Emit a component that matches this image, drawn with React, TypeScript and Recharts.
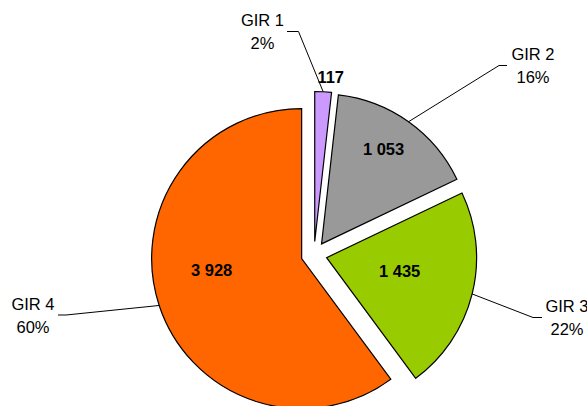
import React from 'react';
import { PieChart, Pie, Cell } from 'recharts';

// ---- data ----
const categories = ['GIR 1', 'GIR 2', 'GIR 3', 'GIR 4'];
const values = [117, 1053, 1435, 3928];
const colors = ['#CC99FF', '#999999', '#99CC00', '#FF6600'];

const data = categories.map((name, i) => ({ name, value: values[i] }));
const total = values.reduce((a, b) => a + b, 0);
const cumulative = values.map((_, i) => values.slice(0, i).reduce((a, b) => a + b, 0));

// ---- layout ----
const W = 587;
const H = 406;
const CX = 314;
const CY = 254.5;
const R = 150;
const EXPLODE = 13;
const START = 90;
const END = -270;
const RAD = Math.PI / 180;
const FONT = '"Liberation Sans", Arial, sans-serif';
const FS = 16.5;

// outer label layout: text centre x, first baseline y, leader elbow x, leader end x
const OUTER = [
  { x: 262.5, y: 26, elbowX: 298.5, endX: 287 },
  { x: 533, y: 60, elbowX: 499, endX: 507 },
  { x: 567, y: 312, elbowX: 533, endX: 542 },
  { x: 33, y: 309.5, elbowX: 66, endX: 58 },
];
// value label offsets from each slice's apex (text centre x, baseline y)
const INNER = [
  { dx: 16, dy: -159 },
  { dx: 62, dy: -89 },
  { dx: 73, dy: 19 },
  { dx: -90, dy: 17 },
];

const fmt = (v: number) => String(v).replace(/\B(?=(\d{3})+(?!\d))/g, ' ');

function makeLabel(k: number) {
  return (p: any) => {
    if (p.index !== k) return null;
    const cx = Number(p.cx);
    const cy = Number(p.cy);
    const mid = Number(p.midAngle);
    const ax = cx + R * Math.cos(-mid * RAD);
    const ay = cy + R * Math.sin(-mid * RAD);
    const o = OUTER[k];
    const ly = o.y + 5.5;
    const inner = INNER[k];
    const pct = Math.round((values[k] / total) * 100);
    return (
      <g>
        <polyline
          points={`${ax},${ay} ${o.elbowX},${ly} ${o.endX},${ly}`}
          fill="none"
          stroke="#000"
          strokeWidth={1}
        />
        <text x={o.x} y={o.y} textAnchor="middle" fontFamily={FONT} fontSize={FS} fill="#000">
          {categories[k]}
        </text>
        <text x={o.x} y={o.y + 23} textAnchor="middle" fontFamily={FONT} fontSize={FS} fill="#000">
          {pct}%
        </text>
        <text
          x={cx + inner.dx}
          y={cy + inner.dy}
          textAnchor="middle"
          fontFamily={FONT}
          fontSize={FS}
          fontWeight="bold"
          fill="#000"
        >
          {fmt(values[k])}
        </text>
      </g>
    );
  };
}

export default function App() {
  return (
    <div style={{ position: 'absolute', left: 0, top: 0, width: W, height: H, background: '#fff' }}>
      <PieChart width={W} height={H} margin={{ top: 0, right: 0, bottom: 0, left: 0 }}>
        {values.map((v, k) => {
          const mid = START - ((cumulative[k] + v / 2) / total) * 360;
          const ox = EXPLODE * Math.cos(mid * RAD);
          const oy = -EXPLODE * Math.sin(mid * RAD);
          return (
            <Pie
              key={k}
              data={data}
              dataKey="value"
              nameKey="name"
              cx={CX + ox}
              cy={CY + oy}
              innerRadius={0}
              outerRadius={R}
              startAngle={START}
              endAngle={END}
              isAnimationActive={false}
              labelLine={false}
              label={makeLabel(k)}
            >
              {data.map((d, i) => (
                <Cell
                  key={d.name}
                  fill={i === k ? colors[i] : 'none'}
                  stroke={i === k ? '#000' : 'none'}
                  strokeWidth={1.2}
                />
              ))}
            </Pie>
          );
        })}
      </PieChart>
    </div>
  );
}
